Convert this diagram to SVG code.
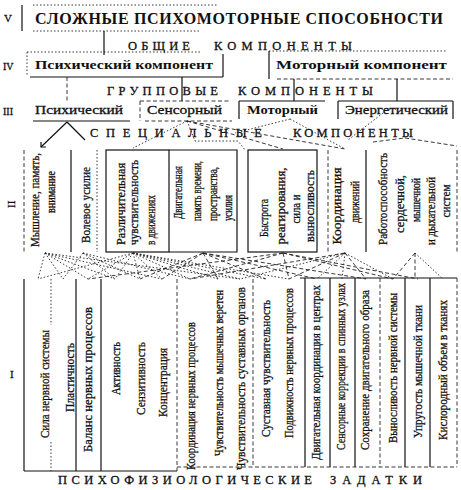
<svg xmlns="http://www.w3.org/2000/svg" width="461" height="490" viewBox="0 0 461 490">
<style>
.t{font-family:"Liberation Serif","Times New Roman",serif;fill:#111;stroke:#111;stroke-width:0.3}
.b{font-weight:bold;stroke-width:0}
.h{font-size:12.5px}
.s2{font-size:13px}
.s1{font-size:13px}
.ln{stroke:#111;stroke-width:1.2;fill:none}
.dt{stroke:#222;stroke-width:0.9;stroke-dasharray:1.5 2;fill:none}
.ds{stroke:#222;stroke-width:0.9;stroke-dasharray:4 2.5;fill:none}
</style>
<rect width="461" height="490" fill="#fff"/>

<g id="levels">
<text class="t" x="4" y="22" font-size="11">V</text>
<text class="t" x="3" y="70" font-size="10">IV</text>
<text class="t" x="3" y="115" font-size="10">III</text>
<text class="t" font-size="11" transform="translate(15,208) rotate(-90)">II</text>
<text class="t" x="10" y="378" font-size="11">I</text>
</g>

<g id="n-title">
<line class="ln" x1="22" y1="5" x2="22" y2="31"/>
<line class="dt" x1="33" y1="5" x2="218" y2="5"/>
<line class="dt" x1="33" y1="31" x2="200" y2="31"/>
<text class="t b" x="35" y="24" font-size="16" textLength="408" lengthAdjust="spacing">СЛОЖНЫЕ ПСИХОМОТОРНЫЕ СПОСОБНОСТИ</text>
</g>

<g id="n-general">
<text class="t h" x="128" y="50" textLength="62" lengthAdjust="spacing">ОБЩИЕ</text>
<text class="t h" x="214" y="50" textLength="138" lengthAdjust="spacing">КОМПОНЕНТЫ</text>
</g>

<g id="n-psych-comp">
<line class="dt" x1="27" y1="52" x2="200" y2="52"/>
<line class="dt" x1="27" y1="52" x2="27" y2="75"/>
<line class="ln" x1="223" y1="54" x2="223" y2="77"/>
<line class="ln" x1="30" y1="77" x2="223" y2="77"/>
<text class="t b" x="35" y="69" font-size="13" textLength="178" lengthAdjust="spacingAndGlyphs">Психический компонент</text>
</g>

<g id="n-motor-comp">
<line class="dt" x1="269" y1="51" x2="447" y2="51"/>
<line class="ln" x1="269" y1="51" x2="269" y2="79"/>
<line class="ds" x1="277" y1="79" x2="453" y2="79"/>
<text class="t b" x="276" y="69" font-size="13" textLength="171" lengthAdjust="spacingAndGlyphs">Моторный компонент</text>
</g>

<g id="n-group">
<text class="t h" x="107" y="95" textLength="111" lengthAdjust="spacing">ГРУППОВЫЕ</text>
<text class="t h" x="238" y="95" textLength="135" lengthAdjust="spacing">КОМПОНЕНТЫ</text>
</g>

<g id="n-psych">
<text class="t" x="35" y="114" font-size="13" textLength="88" lengthAdjust="spacingAndGlyphs">Психический</text>
<line class="ln" x1="33" y1="121" x2="130" y2="121"/>
</g>
<g id="n-sensor">
<line class="ds" x1="140" y1="101" x2="230" y2="101"/>
<line class="ds" x1="140" y1="101" x2="140" y2="121"/>
<line class="ds" x1="145" y1="121" x2="232" y2="121"/>
<text class="t" x="147" y="114" font-size="13" textLength="75" lengthAdjust="spacingAndGlyphs">Сенсорный</text>
</g>
<g id="n-motor">
<line class="ln" x1="239" y1="101" x2="325" y2="101"/>
<line class="ln" x1="239" y1="101" x2="239" y2="119"/>
<text class="t b" x="247" y="114" font-size="13" textLength="71" lengthAdjust="spacingAndGlyphs">Моторный</text>
</g>
<g id="n-energy">
<line class="ln" x1="338" y1="101" x2="453" y2="101"/>
<line class="ln" x1="338" y1="101" x2="338" y2="119"/>
<line class="ln" x1="453" y1="101" x2="453" y2="119"/>
<text class="t" x="345" y="114" font-size="13" textLength="103" lengthAdjust="spacingAndGlyphs">Энергетический</text>
</g>

<g id="n-special">
<text class="t h" x="90" y="137" textLength="172" lengthAdjust="spacing">СПЕЦИАЛЬНЫЕ</text>
<text class="t h" x="293" y="137" textLength="120" lengthAdjust="spacing">КОМПОНЕНТЫ</text>
</g>

<g id="n-ii-1">
<line class="ds" x1="24" y1="150" x2="24" y2="252"/>
<text class="t s2" text-anchor="middle" transform="translate(38.5,200) rotate(-90)" textLength="94" lengthAdjust="spacingAndGlyphs">Мышление, память,</text>
<text class="t s2" text-anchor="middle" transform="translate(54.5,192) rotate(-90)" textLength="42" lengthAdjust="spacingAndGlyphs">внимание</text>
</g>
<g id="n-ii-2">
<line class="ln" x1="71" y1="150" x2="71" y2="252"/>
<line class="dt" x1="97" y1="150" x2="97" y2="252"/>
<text class="t s2" text-anchor="middle" transform="translate(89.5,205) rotate(-90)" textLength="76" lengthAdjust="spacingAndGlyphs">Волевое усилие</text>
</g>
<g id="n-ii-3">
<rect class="ln" x="106" y="150" width="63" height="102"/>
<text class="t s2" transform="translate(124.5,245) rotate(-90)" textLength="82" lengthAdjust="spacingAndGlyphs">Различительная</text>
<text class="t s2" transform="translate(138,245) rotate(-90)" textLength="85" lengthAdjust="spacingAndGlyphs">чувствительность</text>
<text class="t s2" transform="translate(154.5,245) rotate(-90)" textLength="50" lengthAdjust="spacingAndGlyphs">в движениях</text>
</g>
<g id="n-ii-4">
<polyline class="ln" points="169,150 237,150 237,252 169,252"/>
<text class="t" font-size="12" transform="translate(182,219) rotate(-90)" textLength="53" lengthAdjust="spacingAndGlyphs">Двигательная</text>
<text class="t" font-size="12" transform="translate(201,221) rotate(-90)" textLength="60" lengthAdjust="spacingAndGlyphs">память времени,</text>
<text class="t" font-size="12" transform="translate(217,221) rotate(-90)" textLength="54" lengthAdjust="spacingAndGlyphs">пространства,</text>
<text class="t" font-size="12" transform="translate(232,221) rotate(-90)" textLength="26" lengthAdjust="spacingAndGlyphs">усилия</text>
</g>
<g id="n-ii-5">
<rect class="ln" x="248" y="150" width="69" height="102"/>
<text class="t s2" text-anchor="middle" transform="translate(267.5,218) rotate(-90)" textLength="38" lengthAdjust="spacingAndGlyphs">Быстрота</text>
<text class="t s2" text-anchor="middle" transform="translate(284.5,206) rotate(-90)" textLength="77" lengthAdjust="spacingAndGlyphs">реагирования,</text>
<text class="t s2" text-anchor="middle" transform="translate(299.5,209) rotate(-90)" textLength="29" lengthAdjust="spacingAndGlyphs">сила и</text>
<text class="t s2" text-anchor="middle" transform="translate(313.5,206) rotate(-90)" textLength="72" lengthAdjust="spacingAndGlyphs">выносливость</text>
</g>
<g id="n-ii-6">
<line class="ds" x1="328" y1="150" x2="328" y2="252"/>
<line class="ln" x1="366" y1="150" x2="366" y2="252"/>
<text class="t s2" text-anchor="middle" transform="translate(340.5,206) rotate(-90)" textLength="77" lengthAdjust="spacingAndGlyphs">Координация</text>
<text class="t s2" text-anchor="middle" transform="translate(358.5,202) rotate(-90)" textLength="42" lengthAdjust="spacingAndGlyphs">движений</text>
</g>
<g id="n-ii-7">
<line class="ds" x1="457" y1="150" x2="457" y2="252"/>
<text class="t s2" text-anchor="middle" transform="translate(386.5,199) rotate(-90)" textLength="92" lengthAdjust="spacingAndGlyphs">Работоспособность</text>
<text class="t s2" text-anchor="middle" transform="translate(403.5,204) rotate(-90)" textLength="58" lengthAdjust="spacingAndGlyphs">сердечной,</text>
<text class="t s2" text-anchor="middle" transform="translate(419.5,200) rotate(-90)" textLength="44" lengthAdjust="spacingAndGlyphs">мышечной</text>
<text class="t s2" text-anchor="middle" transform="translate(434.5,211) rotate(-90)" textLength="68" lengthAdjust="spacingAndGlyphs">и дыхательной</text>
<text class="t s2" text-anchor="middle" transform="translate(449.5,201) rotate(-90)" textLength="33" lengthAdjust="spacingAndGlyphs">систем</text>
</g>

<g id="n-level-i">
<line class="ln" x1="300" y1="278" x2="457" y2="278"/>
<line class="ln" x1="24" y1="279" x2="24" y2="471"/>
<line class="dt" x1="51" y1="279" x2="51" y2="325"/>
<line class="dt" x1="51" y1="442" x2="51" y2="471"/>
<line class="ln" x1="76" y1="279" x2="76" y2="471"/>
<line class="ln" x1="101" y1="279" x2="101" y2="471"/>
<line class="ds" x1="177" y1="279" x2="177" y2="471"/>
<line class="ds" x1="253" y1="279" x2="253" y2="467"/>
<line class="ln" x1="305" y1="278" x2="305" y2="467"/>
<line class="ln" x1="330" y1="278" x2="330" y2="467"/>
<line class="ln" x1="355" y1="278" x2="355" y2="467"/>
<line class="ds" x1="380" y1="278" x2="380" y2="467"/>
<line class="ln" x1="405" y1="278" x2="405" y2="467"/>
<line class="ln" x1="430" y1="278" x2="430" y2="467"/>
<line class="ds" x1="457" y1="278" x2="457" y2="467"/>
<line class="ln" x1="24" y1="471" x2="177" y2="471"/>
<line class="ds" x1="177" y1="467" x2="457" y2="467"/>
<text class="t s1" transform="translate(48.5,438) rotate(-90)" textLength="108" lengthAdjust="spacingAndGlyphs">Сила нервной системы</text>
<text class="t s1" transform="translate(73.5,412) rotate(-90)" textLength="69" lengthAdjust="spacingAndGlyphs">Пластичность</text>
<text class="t s1" transform="translate(92,452) rotate(-90)" textLength="145" lengthAdjust="spacingAndGlyphs">Баланс нервных процессов</text>
<text class="t s1" transform="translate(119.5,395) rotate(-90)" textLength="53" lengthAdjust="spacingAndGlyphs">Активность</text>
<text class="t s1" transform="translate(144.5,415) rotate(-90)" textLength="73" lengthAdjust="spacingAndGlyphs">Сензитивность</text>
<text class="t s1" transform="translate(166.5,417) rotate(-90)" textLength="69" lengthAdjust="spacingAndGlyphs">Концентрация</text>
<text class="t s1" transform="translate(194.5,470) rotate(-90)" textLength="148" lengthAdjust="spacingAndGlyphs">Координация нервных процессов</text>
<text class="t s1" transform="translate(222.5,456) rotate(-90)" textLength="166" lengthAdjust="spacingAndGlyphs">Чувствительность мышечных веретен</text>
<text class="t s1" transform="translate(244.5,470) rotate(-90)" textLength="183" lengthAdjust="spacingAndGlyphs">Чувствительность суставных органов</text>
<text class="t s1" transform="translate(269.5,437) rotate(-90)" textLength="137" lengthAdjust="spacingAndGlyphs">Суставная чувствительность</text>
<text class="t s1" transform="translate(292.5,438) rotate(-90)" textLength="150" lengthAdjust="spacingAndGlyphs">Подвижность нервных процессов</text>
<text class="t s1" transform="translate(319.5,460) rotate(-90)" textLength="175" lengthAdjust="spacingAndGlyphs">Двигательная координация в центрах</text>
<text class="t s1" transform="translate(344.5,450) rotate(-90)" textLength="167" lengthAdjust="spacingAndGlyphs">Сенсорные коррекции в спинных узлах</text>
<text class="t s1" transform="translate(368.5,450) rotate(-90)" textLength="160" lengthAdjust="spacingAndGlyphs">Сохранение двигательного образа</text>
<text class="t s1" transform="translate(396.5,443) rotate(-90)" textLength="150" lengthAdjust="spacingAndGlyphs">Выносливость нервной системы</text>
<text class="t s1" transform="translate(421.5,438) rotate(-90)" textLength="133" lengthAdjust="spacingAndGlyphs">Упругость мышечной ткани</text>
<text class="t s1" transform="translate(446.5,440) rotate(-90)" textLength="140" lengthAdjust="spacingAndGlyphs">Кислородный объем в тканях</text>
</g>

<g id="n-tasks">
<text class="t h" x="58" y="484" textLength="254" lengthAdjust="spacing">ПСИХОФИЗИОЛОГИЧЕСКИЕ</text>
<text class="t h" x="330" y="484" textLength="92" lengthAdjust="spacing">ЗАДАТКИ</text>
</g>

<g id="connectors">
<line class="ln" x1="104" y1="31" x2="104" y2="55"/>
<line class="ds" x1="67" y1="77" x2="67" y2="101"/>
<line class="ln" x1="182" y1="77" x2="182" y2="101"/>
<line class="ln" x1="294" y1="79" x2="294" y2="101"/>
<line class="ln" x1="397" y1="79" x2="397" y2="101"/>
<line class="ln" x1="67" y1="122" x2="41" y2="147" stroke-width="0.8"/>
<polyline class="ln" points="41,142 41,147 46,147" stroke-width="0.8"/>
<line class="ln" x1="67" y1="122" x2="85" y2="140" stroke-width="0.8"/>
<line class="dt" x1="187" y1="121" x2="133" y2="148"/>
<polyline class="dt" points="187,121 195,141 238,141 245,150"/>
<line class="ds" x1="187" y1="121" x2="283" y2="149"/>
<line class="ds" x1="187" y1="121" x2="345" y2="149"/>
<line class="dt" x1="290" y1="119" x2="345" y2="149"/>
<line class="dt" x1="290" y1="119" x2="235" y2="133"/>
<line class="dt" x1="383" y1="113" x2="348" y2="140"/>
<line class="ds" x1="405" y1="138" x2="457" y2="146"/>
<line class="ds" x1="373" y1="142" x2="405" y2="138"/>

<g class="dt">
<line x1="45" y1="253" x2="38" y2="279"/><line x1="45" y1="253" x2="63" y2="279"/><line x1="45" y1="253" x2="88" y2="279"/><line x1="45" y1="253" x2="115" y2="279"/><line x1="45" y1="253" x2="162" y2="279"/><line x1="45" y1="253" x2="240" y2="279"/>
<line x1="83" y1="253" x2="63" y2="279"/><line x1="83" y1="253" x2="115" y2="279"/><line x1="83" y1="253" x2="140" y2="279"/><line x1="83" y1="253" x2="190" y2="279"/>
<line x1="133" y1="253" x2="38" y2="279"/><line x1="133" y1="253" x2="88" y2="279"/><line x1="133" y1="253" x2="115" y2="279"/><line x1="133" y1="253" x2="140" y2="279"/><line x1="133" y1="253" x2="162" y2="279"/><line x1="133" y1="253" x2="190" y2="279"/><line x1="133" y1="253" x2="218" y2="279"/><line x1="133" y1="253" x2="240" y2="279"/><line x1="133" y1="253" x2="266" y2="279"/><line x1="133" y1="253" x2="289" y2="279"/>
<line x1="345" y1="253" x2="240" y2="279"/><line x1="345" y1="253" x2="317" y2="279"/><line x1="345" y1="253" x2="342" y2="279"/><line x1="345" y1="253" x2="393" y2="279"/>
<line x1="415" y1="253" x2="443" y2="279"/>
</g>
<g class="ds">
<line x1="203" y1="253" x2="140" y2="279"/><line x1="203" y1="253" x2="162" y2="279"/><line x1="203" y1="253" x2="218" y2="279"/><line x1="203" y1="253" x2="266" y2="279"/><line x1="203" y1="253" x2="317" y2="279"/><line x1="203" y1="253" x2="366" y2="279"/>
<line x1="283" y1="253" x2="88" y2="279"/><line x1="283" y1="253" x2="190" y2="279"/><line x1="283" y1="253" x2="289" y2="279"/><line x1="283" y1="253" x2="393" y2="279"/><line x1="283" y1="253" x2="418" y2="279"/>
<line x1="345" y1="253" x2="190" y2="279"/><line x1="345" y1="253" x2="289" y2="279"/><line x1="345" y1="253" x2="366" y2="279"/>
<line x1="415" y1="253" x2="393" y2="279"/><line x1="415" y1="253" x2="415" y2="279"/>
</g>
</g>
</svg>
